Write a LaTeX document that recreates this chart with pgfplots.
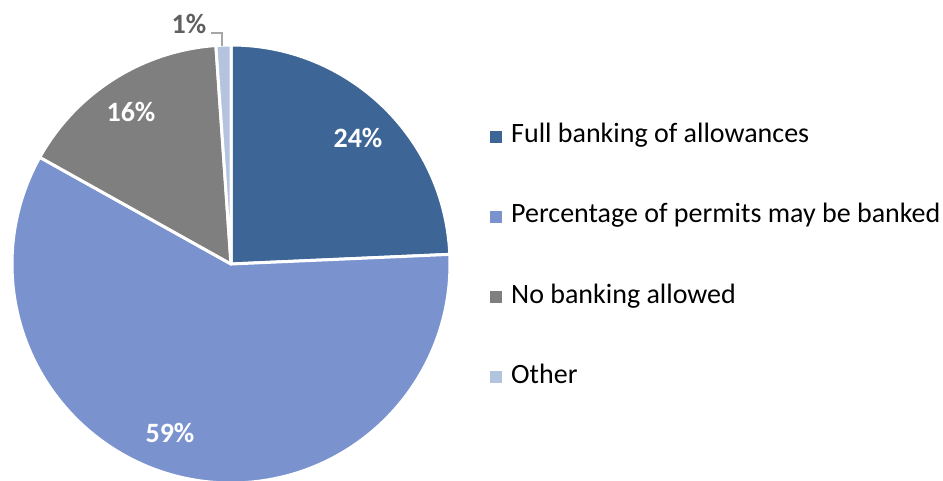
\documentclass[border=0pt]{standalone}
\usepackage{pgfplots}
\pgfplotsset{compat=1.18}
\usepackage{fontspec}
\setmainfont{Carlito}
\definecolor{cA}{HTML}{3D6596}
\definecolor{cB}{HTML}{7A93CF}
\definecolor{cC}{HTML}{7F7F7F}
\definecolor{cD}{HTML}{B4C4DF}
\definecolor{lbl}{HTML}{5F5F5F}
\definecolor{lead}{HTML}{A6A6A6}
\begin{document}
\begin{tikzpicture}
\begin{axis}[width=943pt,height=480pt,scale only axis,
  xmin=0,xmax=943,ymin=0,ymax=480,hide axis]
\gdef\start{90}
\foreach \v/\c in {24.3/cA,58.8/cB,15.8/cC,1.1/cD}{%
  \pgfmathsetmacro\en{\start-3.6*\v}%
  \edef\tmp{\noexpand\fill[\c,draw=white,line width=3pt,line join=round]
    (axis cs:231,216) -- ([shift={(\start:219pt)}]axis cs:231,216)
    arc[start angle=\start,end angle=\en,radius=219pt] -- cycle;}%
  \tmp
  \global\let\start\en
}
% data labels
\node[anchor=base,text=white,font=\fontsize{28}{30}\selectfont\bfseries] at (axis cs:358,332) {24\%};
\node[anchor=base,text=white,font=\fontsize{28}{30}\selectfont\bfseries] at (axis cs:170,38) {59\%};
\node[anchor=base,text=white,font=\fontsize{28}{30}\selectfont\bfseries] at (axis cs:131,358) {16\%};
\node[anchor=base,text=lbl,font=\fontsize{28}{30}\selectfont\bfseries] at (axis cs:189,446) {1\%};
\draw[lead,line width=1.5pt] (axis cs:211,447) -- (axis cs:222,447) -- (axis cs:222,434);
% legend
\foreach \yy/\c/\t in {337/cA/{Full banking of allowances},257/cB/{Percentage of permits may be banked},177/cC/{No banking allowed},97/cD/{Other}}{%
  \edef\tmp{\noexpand\fill[\c] (axis cs:490,\yy) rectangle (axis cs:502,\yy+12);}\tmp
}
\node[anchor=base west,font=\fontsize{28}{30}\selectfont,inner sep=0pt] at (axis cs:511,337) {Full banking of allowances};
\node[anchor=base west,font=\fontsize{28}{30}\selectfont,inner sep=0pt] at (axis cs:511,257) {Percentage of permits may be banked};
\node[anchor=base west,font=\fontsize{28}{30}\selectfont,inner sep=0pt] at (axis cs:511,177) {No banking allowed};
\node[anchor=base west,font=\fontsize{28}{30}\selectfont,inner sep=0pt] at (axis cs:511,97) {Other};
\end{axis}
\pgfresetboundingbox
\path[use as bounding box] (current axis.south west) rectangle (current axis.north east);
\end{tikzpicture}
\end{document}
